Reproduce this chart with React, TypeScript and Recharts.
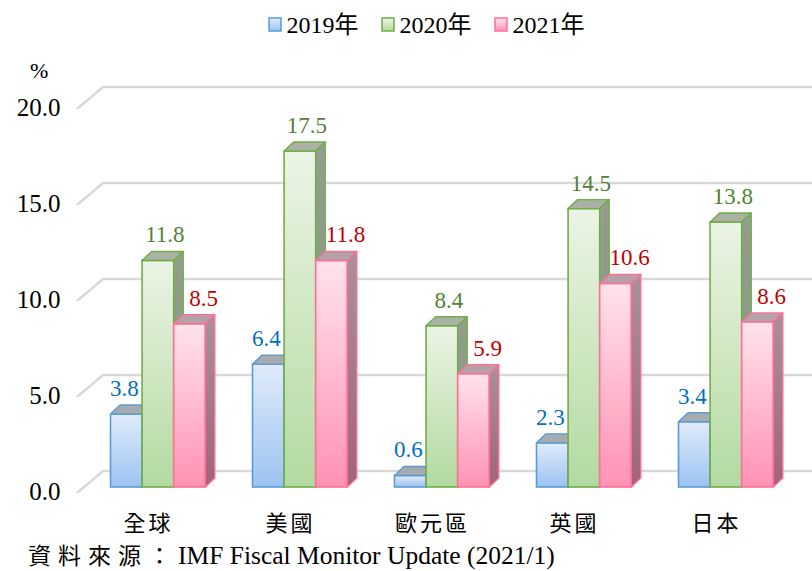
import { Bar, BarChart, CartesianGrid, LabelList, Legend, XAxis, YAxis } from 'recharts';

const categories = ['全球', '美國', '歐元區', '英國', '日本'];
const y2019 = [3.8, 6.4, 0.6, 2.3, 3.4];
const y2020 = [11.8, 17.5, 8.4, 14.5, 13.8];
const y2021 = [8.5, 11.8, 5.9, 10.6, 8.6];
const yTicks = [0, 5, 10, 15, 20];

const data = categories.map((name, i) => ({
  name,
  y2019: y2019[i],
  y2020: y2020[i],
  y2021: y2021[i],
}));

const SERIF = "'Liberation Serif', 'Times New Roman', 'Noto Sans CJK TC', serif";
const CJK = "'Noto Sans CJK TC', 'Noto Sans CJK SC', sans-serif";

// depth of the fake 3d
const DX = 9.5;
const DY = 9;

const series = [
  { key: 'y2019', label: '2019年', stroke: '#5b9bd5', top: '#a6abb0', grad: 'gBlue', text: '#0070c0', off: -2 },
  { key: 'y2020', label: '2020年', stroke: '#70ad47', top: '#a9b2a4', grad: 'gGreen', text: '#538135', off: 7 },
  { key: 'y2021', label: '2021年', stroke: '#ff6f98', top: '#b3a2a8', grad: 'gPink', text: '#c00000', off: 14 },
];

const Bar3D = (props: any) => {
  const { x, y, width: w, height: h, s } = props;
  if (h == null || h <= 0) return null;
  return (
    <g>
      <rect x={x} y={y} width={w} height={h} fill={`url(#${s.grad})`} stroke={s.stroke} strokeWidth={1.6} />
      <path
        d={`M${x},${y} L${x + w},${y} L${x + w + DX},${y - DY} L${x + DX},${y - DY} Z`}
        fill={s.top}
        stroke={s.stroke}
        strokeWidth={1.4}
        strokeLinejoin="round"
      />
      <path
        d={`M${x + w},${y} L${x + w + DX},${y - DY} L${x + w + DX},${y + h - DY} L${x + w},${y + h} Z`}
        fill={`url(#${s.grad}Side)`}
        stroke={s.stroke}
        strokeWidth={1.4}
        strokeLinejoin="round"
      />
    </g>
  );
};

const GridLine = (props: any) => {
  const { x1, x2, y1 } = props;
  return (
    <path
      d={`M${x1 - 9.5},${y1 + 6} L${x1 + 16.5},${y1 - 16} L${x2 + 16},${y1 - 16}`}
      fill="none"
      stroke="#d9d9d9"
      strokeWidth={2.5}
    />
  );
};

const YTick = ({ x, y, payload }: any) => (
  <text x={x - 26} y={y + 4} textAnchor="end" dominantBaseline="central" fontSize={25} fontFamily={SERIF} fill="#000">
    {Number(payload.value).toFixed(1)}
  </text>
);

const XTick = ({ x, y, payload }: any) => (
  <text x={x - 9} y={y + 33.5} textAnchor="middle" dominantBaseline="central" fontSize={22} fontFamily={CJK} fill="#000" letterSpacing={3}>
    {payload.value}
  </text>
);

const makeLabel = (s: any) => (props: any) => {
  const { x, y, width, value } = props;
  return (
    <text x={x + width / 2 + s.off} y={y - 18} textAnchor="middle" fontSize={23} fontFamily={SERIF} fill={s.text}>
      {Number(value).toFixed(1)}
    </text>
  );
};

const LegendBox = () => (
  <div style={{ display: 'flex', justifyContent: 'center', paddingLeft: 62, fontFamily: SERIF, fontSize: 24, lineHeight: '28px' }}>
    {series.map((s) => (
      <div key={s.key} style={{ display: 'flex', alignItems: 'center', marginRight: 22 }}>
        <svg width={15} height={16} style={{ marginRight: 4 }}>
          <rect x={1} y={1} width={12} height={13} fill={`url(#${s.grad})`} stroke={s.stroke} strokeWidth={1.5} />
        </svg>
        <span>{s.label}</span>
      </div>
    ))}
  </div>
);

export default function App() {
  return (
    <div style={{ position: 'absolute', left: 0, top: 0, width: 812, height: 571, background: '#fff' }}>
      <BarChart
        width={812}
        height={571}
        data={data}
        margin={{ top: 103, right: 15.5, left: 0, bottom: 40 }}
        barGap={0}
        barSize={31.6}
      >
        <defs>
          <linearGradient id="gBlue" x1="0" y1="0" x2="0" y2="1">
            <stop offset="0%" stopColor="#e0ebfb" />
            <stop offset="100%" stopColor="#9cc3f1" />
          </linearGradient>
          <linearGradient id="gGreen" x1="0" y1="0" x2="0" y2="1">
            <stop offset="0%" stopColor="#ebf4e5" />
            <stop offset="100%" stopColor="#b3daa0" />
          </linearGradient>
          <linearGradient id="gPink" x1="0" y1="0" x2="0" y2="1">
            <stop offset="0%" stopColor="#ffe3ec" />
            <stop offset="100%" stopColor="#ff92b4" />
          </linearGradient>
          <linearGradient id="gBlueSide" x1="0" y1="0" x2="0" y2="1">
            <stop offset="0%" stopColor="#9aa3ad" />
            <stop offset="100%" stopColor="#7f8fa3" />
          </linearGradient>
          <linearGradient id="gGreenSide" x1="0" y1="0" x2="0" y2="1">
            <stop offset="0%" stopColor="#939e8d" />
            <stop offset="100%" stopColor="#84957c" />
          </linearGradient>
          <linearGradient id="gPinkSide" x1="0" y1="0" x2="0" y2="1">
            <stop offset="0%" stopColor="#a8919a" />
            <stop offset="100%" stopColor="#a2637b" />
          </linearGradient>
        </defs>
        <CartesianGrid vertical={false} horizontal={(p: any) => <GridLine key={p.key} {...p} />} />
        <XAxis dataKey="name" axisLine={false} tickLine={false} tickSize={0} tickMargin={0} height={44} tick={<XTick />} interval={0} />
        <YAxis
          domain={[0, 20]}
          ticks={yTicks}
          width={86.5}
          axisLine={false}
          tickLine={false}
          tickSize={0}
          tickMargin={0}
          tick={<YTick />}
        />
        <Legend
          verticalAlign="middle"
          layout="horizontal"
          content={() => <LegendBox />}
          wrapperStyle={{ top: 11, left: 0, width: 812, height: 28 }}
        />
        {series.map((s) => (
          <Bar
            key={s.key}
            dataKey={s.key}
            name={s.label}
            isAnimationActive={false}
            shape={(p: any) => <Bar3D {...p} s={s} />}
          >
            <LabelList dataKey={s.key} content={makeLabel(s)} />
          </Bar>
        ))}
      </BarChart>
      <div style={{ position: 'absolute', left: 30, top: 58, fontFamily: SERIF, fontSize: 22 }}>%</div>
      <div style={{ position: 'absolute', left: 28, top: 540, fontSize: 25.5, lineHeight: '28px', fontFamily: SERIF, whiteSpace: 'nowrap' }}>
        <span style={{ fontFamily: CJK, fontSize: 23, letterSpacing: 7 }}>資料來源：</span>IMF Fiscal Monitor Update (2021/1)
      </div>
    </div>
  );
}
